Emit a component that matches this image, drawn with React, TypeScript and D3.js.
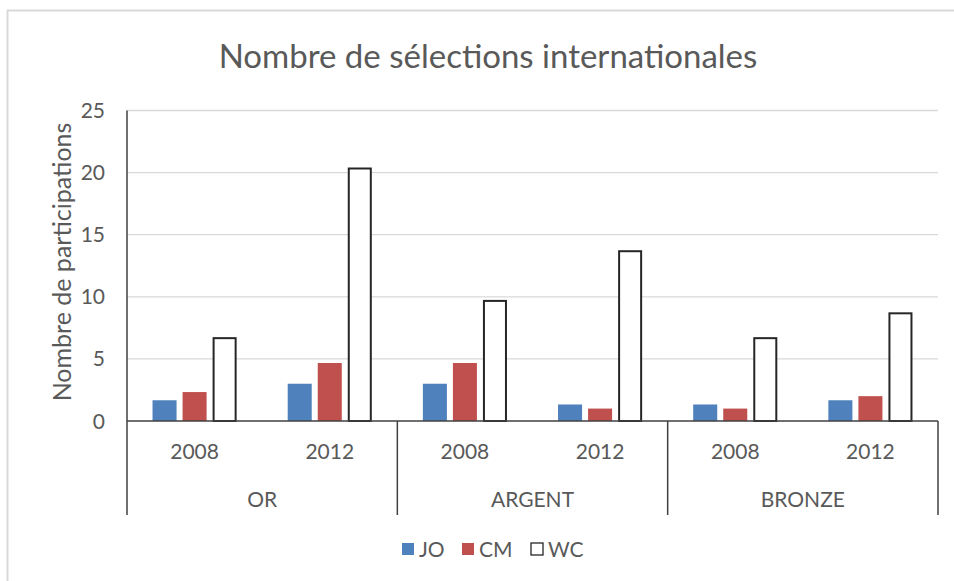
import React from "react";
import * as d3 from "d3";

const groups = ["OR", "ARGENT", "BRONZE"];
const years = ["2008", "2012"];
const series = ["JO", "CM", "WC"];
// valeurs par série, ordre : OR 2008, OR 2012, ARGENT 2008, ARGENT 2012, BRONZE 2008, BRONZE 2012
const jo = [1.67, 3, 3, 1.33, 1.33, 1.67];
const cm = [2.33, 4.67, 4.67, 1, 1, 2];
const wc = [6.67, 20.33, 9.67, 13.67, 6.67, 8.67];
const yTicks = [0, 5, 10, 15, 20, 25];

const colors = { JO: "#4f81bd", CM: "#c0504d", WC: "#ffffff" };
const values = { JO: jo, CM: cm, WC: wc };

const W = 954, H = 581;
const left = 127, right = 938, top = 110.5, bottom = 421;
const font = "Lato, 'Open Sans', sans-serif";
const grey = "#595959";

const App = () => {
  const x0 = d3.scaleBand().domain(groups).range([left, right]);
  const x1 = d3.scaleBand().domain(years).range([0, x0.bandwidth()]);
  const xs = d3.scaleBand().domain(series).range([0, x1.bandwidth()])
    .paddingInner(0.2).paddingOuter(0.85);
  const y = d3.scaleLinear().domain([0, 25]).range([bottom, top]);

  const bars = [];
  groups.forEach((g, gi) => {
    years.forEach((yr, yi) => {
      const idx = gi * years.length + yi;
      series.forEach(s => {
        const v = values[s][idx];
        const bx = x0(g) + x1(yr) + xs(s);
        bars.push(
          <rect key={g + yr + s}
            x={s === "WC" ? bx + 1 : bx}
            y={y(v)}
            width={s === "WC" ? xs.bandwidth() - 2 : xs.bandwidth()}
            height={bottom - y(v)}
            fill={colors[s]}
            stroke={s === "WC" ? "#262626" : "none"}
            strokeWidth={s === "WC" ? 2 : 0} />
        );
      });
    });
  });

  const legendX = { JO: 402, CM: 462, WC: 531 };

  return (
    <svg width={W} height={H} style={{ position: "absolute", left: 0, top: 0 }}>
      <rect x={0} y={0} width={W} height={H} fill="#fff" />
      <path d={`M7.5,${H} V10.5 H${W}`} fill="none" stroke="#d9d9d9" strokeWidth={2} />
      <text x={488} y={68} textAnchor="middle" fontFamily={font} fontSize={33} fill={grey}>
        Nombre de sélections internationales
      </text>
      {yTicks.map(t => (
        <g key={t}>
          {t > 0 && <line x1={left} x2={right} y1={y(t)} y2={y(t)} stroke="#d9d9d9" strokeWidth={1.3} />}
          <text x={105} y={y(t)} dy="0.36em" textAnchor="end" fontFamily={font} fontSize={21} fill={grey}>{t}</text>
        </g>
      ))}
      <text transform={`translate(62,262) rotate(-90)`} textAnchor="middle" dy="0.36em"
        fontFamily={font} fontSize={25} fill={grey}>Nombre de participations</text>
      {bars}
      <line x1={left} x2={left} y1={top} y2={bottom} stroke="#404040" strokeWidth={1.5} />
      <line x1={left} x2={right} y1={bottom} y2={bottom} stroke="#404040" strokeWidth={1.5} />
      {[...groups.map(g => x0(g)), right].map((xv, i) => (
        <line key={i} x1={xv} x2={xv} y1={bottom} y2={515} stroke="#404040" strokeWidth={1.5} />
      ))}
      {groups.map(g => (
        <g key={g}>
          {years.map(yr => (
            <text key={yr} x={x0(g) + x1(yr) + x1.bandwidth() / 2} y={459} textAnchor="middle"
              fontFamily={font} fontSize={21} fill={grey}>{yr}</text>
          ))}
          <text x={x0(g) + x0.bandwidth() / 2} y={507} textAnchor="middle"
            fontFamily={font} fontSize={21} fill={grey}>{g}</text>
        </g>
      ))}
      {series.map(s => (
        <g key={s} transform={`translate(${legendX[s]},0)`}>
          <rect x={0} y={543} width={12} height={12} fill={colors[s]}
            stroke={s === "WC" ? "#262626" : "none"} strokeWidth={1.3} />
          <text x={17} y={557} fontFamily={font} fontSize={21} fill={grey}>{s}</text>
        </g>
      ))}
    </svg>
  );
};

export default App;
